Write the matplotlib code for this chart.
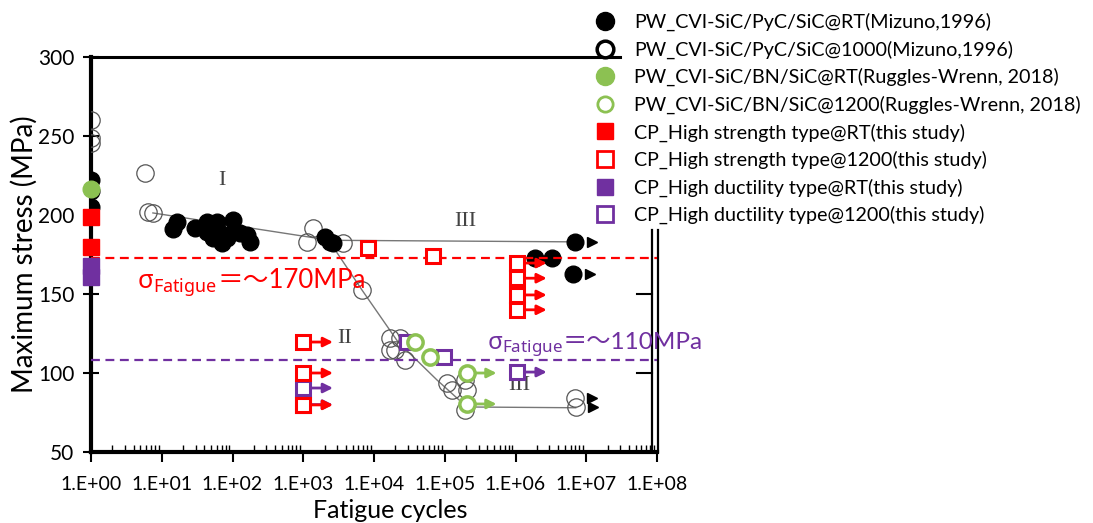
import matplotlib
matplotlib.use("Agg")
import matplotlib.pyplot as plt
from matplotlib.lines import Line2D
import numpy as np

plt.rcParams['font.family'] = ['Lato', 'Noto Sans CJK JP', 'DejaVu Sans']
plt.rcParams['mathtext.fontset'] = 'custom'
plt.rcParams['mathtext.rm'] = 'Noto Sans'
plt.rcParams['mathtext.it'] = 'Noto Sans'

# ---------------- data ----------------
mizuno_rt_x = [1, 1, 1, 16.4, 14.4, 29.5, 43.6, 60.4, 101.6, 43.6, 66.5, 71, 101.6,
               127.6, 160, 176.7, 53, 83.6, 2000, 2400, 2600, 1.9e6, 3.3e6, 6.9e6, 6.5e6]
mizuno_rt_y = [222, 215, 205, 195.6, 191.1, 191.7, 195.6, 195.6, 196.8, 189.2, 188.6, 182.3, 189.2,
               188.6, 187.3, 182.9, 185.4, 185.4, 186, 182.9, 182.3, 172.8, 172.8, 182.9, 162.6]
mizuno_rt_runout_x = [6.9e6, 6.5e6]
mizuno_rt_runout_y = [182.9, 162.6]

mizuno_1000_x = [1, 1, 1, 5.8, 6.4, 7.5, 1380, 1130, 3650, 6770, 16800, 16800, 23300, 27300,
                 19800, 1.07e5, 1.26e5, 1.94e5, 2.05e5, 1.94e5, 6.9e6, 7.1e6]
mizuno_1000_y = [260, 248.7, 245.6, 226.6, 201.9, 201.3, 191.8, 182.9, 182.3, 152.5, 122.1, 114.5,
                 122.1, 108.2, 114.5, 93.6, 89.2, 95.6, 89.2, 76.6, 84.2, 78.5]
mizuno_1000_runout_x = [6.9e6, 7.1e6]
mizuno_1000_runout_y = [84.2, 78.5]

trend_upper_x = [7.5, 2400, 6.9e6]
trend_upper_y = [201.3, 184, 183]
trend_lower_x = [2180, 6770, 21900, 77600, 2.05e5, 7.1e6]
trend_lower_y = [185.4, 152.5, 119.6, 95.6, 78.5, 78.0]

ruggles_rt_x = [1]
ruggles_rt_y = [216.5]
ruggles_1200_x = [38000, 62000, 2.05e5, 2.05e5]
ruggles_1200_y = [119.6, 110, 100, 80.4]
ruggles_1200_runout_x = [2.05e5, 2.05e5]
ruggles_1200_runout_y = [100, 80.4]

hs_rt_x = [1, 1]
hs_rt_y = [198.5, 180]
hs_1200_x = [8300, 68000, 1.05e6, 1.05e6, 1.05e6, 1.05e6, 1000, 1000, 1000]
hs_1200_y = [179, 174, 169.6, 160, 149.4, 140, 119.6, 100, 79.8]
hs_1200_runout_x = [1.05e6, 1.05e6, 1.05e6, 1.05e6, 1000, 1000, 1000]
hs_1200_runout_y = [169.6, 160, 149.4, 140, 119.6, 100, 79.8]

hd_rt_x = [1, 1]
hd_rt_y = [167.5, 160.5]
hd_1200_x = [29000, 98000, 1.05e6, 1000, 1000]
hd_1200_y = [119.6, 110, 100.6, 90.5, 80]
hd_1200_runout_x = [1.05e6, 1000, 1000]
hd_1200_runout_y = [100.6, 90.5, 80]

fatigue_hs = 173
fatigue_hd = 108

x_ticks = [1e0, 1e1, 1e2, 1e3, 1e4, 1e5, 1e6, 1e7, 1e8]
x_ticklabels = ['1.E+00', '1.E+01', '1.E+02', '1.E+03', '1.E+04', '1.E+05', '1.E+06', '1.E+07', '1.E+08']
y_ticks = [50, 100, 150, 200, 250, 300]

labels = ['PW_CVI-SiC/PyC/SiC@RT(Mizuno,1996)',
          'PW_CVI-SiC/PyC/SiC@1000(Mizuno,1996)',
          'PW_CVI-SiC/BN/SiC@RT(Ruggles-Wrenn, 2018)',
          'PW_CVI-SiC/BN/SiC@1200(Ruggles-Wrenn, 2018)',
          'CP_High strength type@RT(this study)',
          'CP_High strength type@1200(this study)',
          'CP_High ductility type@RT(this study)',
          'CP_High ductility type@1200(this study)']

# ---------------- style ----------------
RED = '#FF0000'
GREEN = '#8CC152'
PURPLE = '#7030A0'
GRAY = '#555555'
ARROW_DEC = 0.42

fig = plt.figure(figsize=(10.93, 5.23), dpi=100)
ax = fig.add_axes([91 / 1093, 1 - 452 / 523, 566 / 1093, 395 / 523])
ax.set_xscale('log')
ax.set_xlim(1, 1e8)
ax.set_ylim(50, 300)

# trend lines
ax.plot(trend_upper_x, trend_upper_y, color='#777777', lw=1, zorder=2)
ax.plot(trend_lower_x, trend_lower_y, color='#777777', lw=1, zorder=2)

# Mizuno 1000 (hollow)
ax.plot(mizuno_1000_x, mizuno_1000_y, 'o', ms=12.5, mfc='none', mec=GRAY, mew=0.9, ls='none', zorder=3)
# Mizuno RT (filled)
ax.plot(mizuno_rt_x, mizuno_rt_y, 'o', ms=12, mfc='black', mec='black', ls='none', zorder=4)
# black runout heads
for xs, ys in [(mizuno_rt_runout_x, mizuno_rt_runout_y), (mizuno_1000_runout_x, mizuno_1000_runout_y)]:
    ax.plot(np.array(xs) * 10 ** 0.24, ys, '>', ms=7, color='black', ls='none', zorder=4)


def runouts(xs, ys, color, z):
    for x, y in zip(xs, ys):
        ax.annotate('', xy=(x * 10 ** ARROW_DEC, y), xytext=(x, y),
                    arrowprops=dict(arrowstyle='-|>', color=color, lw=2, mutation_scale=14,
                                    shrinkA=0, shrinkB=0), zorder=z)


runouts(hd_1200_runout_x, hd_1200_runout_y, PURPLE, 5)
runouts(hs_1200_runout_x, hs_1200_runout_y, RED, 6)
runouts(ruggles_1200_runout_x, ruggles_1200_runout_y, GREEN, 6)

ax.plot(hd_1200_x, hd_1200_y, 's', ms=10, mfc='white', mec=PURPLE, mew=2.2, ls='none', zorder=6)
ax.plot(hs_1200_x, hs_1200_y, 's', ms=10, mfc='white', mec=RED, mew=2.2, ls='none', zorder=7)
ax.plot(ruggles_1200_x, ruggles_1200_y, 'o', ms=11, mfc='white', mec=GREEN, mew=2.5, ls='none', zorder=8)

ax.plot(hd_rt_x, hd_rt_y, 's', ms=12, color=PURPLE, ls='none', zorder=9, clip_on=False)
ax.plot(hs_rt_x, hs_rt_y, 's', ms=12, color=RED, ls='none', zorder=9, clip_on=False)
ax.plot(ruggles_rt_x, ruggles_rt_y, 'o', ms=12, color=GREEN, ls='none', zorder=9, clip_on=False)

# fatigue limits
ax.axhline(fatigue_hs, color=RED, lw=1.6, ls=(0, (4, 2.5)), zorder=5)
ax.axhline(fatigue_hd, color=PURPLE, lw=1.6, ls=(0, (4, 2.5)), zorder=5)


def fatigue_label(x, y, value, color, size):
    t1 = ax.text(x, y, r'$\mathrm{σ}_{\mathrm{Fatigue}}$', color=color, fontsize=size,
                 ha='left', va='baseline', zorder=10, clip_on=False)
    ax.annotate('＝～%dMPa' % value, xy=(1.0, y), xycoords=(t1, 'data'), color=color, fontsize=size,
                ha='left', va='baseline', zorder=10, annotation_clip=False,
                family=['Lato', 'Noto Sans CJK JP'])


fatigue_label(4.5, 154, 170, RED, 18.5)
fatigue_label(10 ** 5.6, 115, 110, PURPLE, 17.5)

# roman numerals
for s, x, y in [('I', 71, 222), ('II', 3900, 122), ('III', 1.94e5, 196), ('III', 1.15e6, 92)]:
    ax.text(x, y, s, family='Liberation Serif', fontsize=16, color='#444444', ha='center', va='center', zorder=3)

# axes styling
for side in ['left', 'bottom']:
    ax.spines[side].set_linewidth(3)
ax.spines['top'].set_linewidth(2.2)
ax.spines['top'].set_bounds(1, 10 ** 7.48)
ax.spines['right'].set_visible(False)
ax.plot([0.991, 0.991], [0, 0.562], transform=ax.transAxes, color='black', lw=1.6, clip_on=False)
ax.plot([1.002, 1.002], [0, 0.562], transform=ax.transAxes, color='black', lw=1.6, clip_on=False)
for yv in [150, 100]:
    ax.plot([0.965, 0.991], [yv, yv], transform=ax.get_yaxis_transform(), color='black', lw=1.5)

ax.set_xticks(x_ticks)
ax.set_xticklabels(x_ticklabels)
ax.set_yticks(y_ticks)
ax.tick_params(axis='x', which='major', direction='out', length=7, width=1.5, labelsize=14, pad=10)
ax.tick_params(axis='x', which='minor', direction='in', length=5, width=1.0)
ax.tick_params(axis='y', which='major', direction='inout', length=12, width=1.5, labelsize=15, pad=6)

ax.set_xlabel('Fatigue cycles', fontsize=18, va='center')
ax.xaxis.set_label_coords(0.528, -0.147)
ax.set_ylabel('Maximum stress (MPa)', fontsize=20, va='center')
ax.yaxis.set_label_coords(-0.117, 0.5)

# legend
handles = [
    Line2D([], [], marker='o', ls='none', ms=13, mfc='black', mec='black'),
    Line2D([], [], marker='o', ls='none', ms=12, mfc='white', mec='black', mew=2.5),
    Line2D([], [], marker='o', ls='none', ms=13, mfc=GREEN, mec=GREEN),
    Line2D([], [], marker='o', ls='none', ms=11, mfc='white', mec=GREEN, mew=2),
    Line2D([], [], marker='s', ls='none', ms=12, mfc=RED, mec=RED),
    Line2D([], [], marker='s', ls='none', ms=11, mfc='white', mec=RED, mew=2),
    Line2D([], [], marker='s', ls='none', ms=12, mfc=PURPLE, mec=PURPLE),
    Line2D([], [], marker='s', ls='none', ms=11, mfc='white', mec=PURPLE, mew=2),
]
fig.legend(handles, labels, loc='upper left', bbox_to_anchor=(580 / 1093, 1.0), frameon=False,
           fontsize=14.2, handlelength=1.2, handletextpad=0.9, labelspacing=0.47, borderpad=0.15)

fig.savefig('out.png', dpi=100)
